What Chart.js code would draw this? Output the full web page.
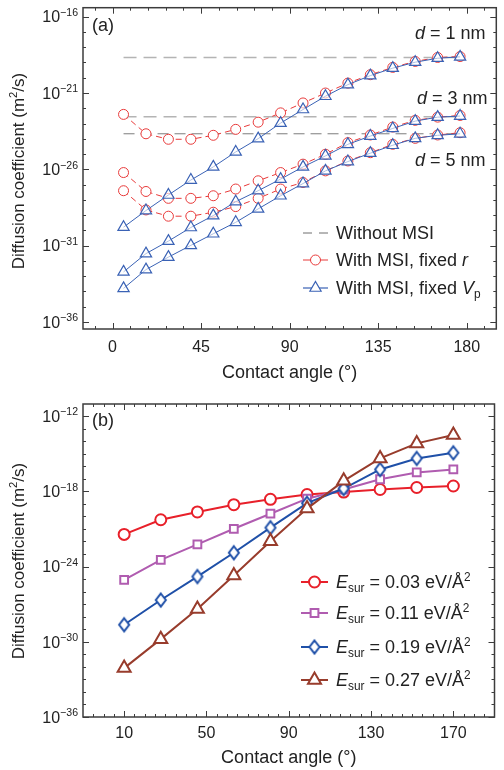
<!DOCTYPE html>
<html>
<head>
<meta charset="utf-8">
<script src="https://cdn.jsdelivr.net/npm/chart.js@4.4.0/dist/chart.umd.min.js"></script>
<style>
  html, body { margin: 0; padding: 0; background: #fff; }
  #wrap { position: relative; width: 504px; height: 770px; }
  canvas { position: absolute; left: 0; }
  #chart-a { top: 0; }
  #chart-b { top: 385px; }
</style>
</head>
<body>
<div id="wrap">
  <canvas id="chart-a" width="504" height="385"></canvas>
  <canvas id="chart-b" width="504" height="385"></canvas>
</div>
<script>
// ---- Panel (a) data: contact angle (deg) vs log10 of diffusion coefficient (m2/s)
const anglesA = [5.6, 17, 28.4, 39.8, 51.2, 62.6, 74, 85.4, 96.8, 108.2, 119.6, 131, 142.4, 153.8, 165.2, 176.6];
const fixedR_d1 = [-22.40, -23.67, -24.03, -24.03, -23.77, -23.38, -22.91, -22.30, -21.65, -21.00, -20.35, -19.80, -19.32, -18.93, -18.67, -18.61];
const fixedV_d1 = [-29.79, -28.70, -27.68, -26.70, -25.84, -24.86, -23.99, -22.97, -22.08, -21.21, -20.45, -19.86, -19.37, -18.98, -18.72, -18.63];
const fixedR_d3 = [-26.21, -27.45, -27.90, -27.90, -27.73, -27.29, -26.75, -26.21, -25.66, -25.01, -24.25, -23.75, -23.23, -22.79, -22.58, -22.47];
const fixedV_d3 = [-32.72, -31.52, -30.70, -29.81, -29.03, -28.12, -27.40, -26.64, -25.84, -25.12, -24.36, -23.82, -23.32, -22.84, -22.58, -22.51];
const fixedR_d5 = [-27.40, -28.66, -29.07, -29.07, -28.81, -28.44, -27.90, -27.29, -26.86, -26.10, -25.45, -24.91, -24.36, -23.97, -23.75, -23.60];
const fixedV_d5 = [-33.80, -32.57, -31.75, -30.98, -30.22, -29.47, -28.59, -27.73, -26.93, -26.10, -25.49, -24.94, -24.42, -23.97, -23.77, -23.67];
// without MSI (flat reference lines), for d = 1, 3, 5 nm
const noMsiSpan = [5.6, 176.6];
const noMsi = [-18.67, -22.56, -23.67];

// ---- Panel (b) data
const anglesB = [10, 27.8, 45.6, 63.3, 81.1, 98.9, 116.7, 134.4, 152.2, 170];
const esur003 = [-21.44, -20.27, -19.65, -19.07, -18.64, -18.26, -18.06, -17.86, -17.70, -17.58];
const esur011 = [-25.07, -23.47, -22.24, -20.99, -19.79, -18.59, -17.86, -17.04, -16.50, -16.26];
const esur019 = [-28.64, -26.67, -24.80, -22.90, -20.90, -18.95, -17.78, -16.26, -15.38, -14.93];
const esur027 = [-32.10, -29.79, -27.38, -24.72, -21.98, -19.38, -17.17, -15.38, -14.18, -13.52];

// ---- Tick labels
const xTicksA = [0, 45, 90, 135, 180];
const yTicksA = [-16, -21, -26, -31, -36];
const xTicksB = [10, 50, 90, 130, 170];
const yTicksB = [-12, -18, -24, -30, -36];

const FONT = '"Liberation Sans", Arial, Helvetica, sans-serif';
const RED_A = '#e83a3a';
const BLUE_A = '#3a62b5';
const C_RED = '#e8202a';
const C_PURPLE = '#b05cb0';
const C_BLUE = '#1f50a8';
const C_BROWN = '#983c2c';
const FRAME = '#3c3c3c';

function pts(xs, logs) {
  return xs.map((x, i) => ({ x: x, y: Math.pow(10, logs[i]) }));
}

function font(size, italic) {
  return (italic ? 'italic ' : '') + size + 'px ' + FONT;
}

// parts: [text, kind]  kind: '' | 'i' | 'sub' | 'sup'
function drawRich(ctx, parts, x, cy, size, align) {
  const small = size * 0.66;
  let w = 0;
  parts.forEach(([t, k]) => {
    ctx.font = font(k === 'sub' || k === 'sup' ? small : size, k === 'i');
    w += ctx.measureText(t).width;
  });
  let px = align === 'center' ? x - w / 2 : align === 'right' ? x - w : x;
  const base = cy + size * 0.36;
  ctx.textAlign = 'left';
  ctx.textBaseline = 'alphabetic';
  parts.forEach(([t, k]) => {
    ctx.font = font(k === 'sub' || k === 'sup' ? small : size, k === 'i');
    let by = base;
    if (k === 'sup') by = base - size * 0.4;
    if (k === 'sub') by = base + size * 0.22;
    ctx.fillText(t, px, by);
    px += ctx.measureText(t).width;
  });
}

function diamondImage(color) {
  const c = document.createElement('canvas');
  c.width = 14; c.height = 18;
  const g = c.getContext('2d');
  g.beginPath();
  g.moveTo(7, 2.5); g.lineTo(12, 9); g.lineTo(7, 15.5); g.lineTo(2, 9); g.closePath();
  g.fillStyle = '#fff'; g.fill();
  g.strokeStyle = color; g.lineWidth = 2; g.stroke();
  return c;
}
const diamond = diamondImage(C_BLUE);

// marker for the hand drawn legends
function drawMarker(ctx, style, x, y, r, color, lw) {
  ctx.save();
  ctx.setLineDash([]);
  ctx.strokeStyle = color;
  ctx.fillStyle = '#fff';
  ctx.lineWidth = lw;
  ctx.beginPath();
  if (style === 'circle') {
    ctx.arc(x, y, r, 0, Math.PI * 2);
  } else if (style === 'triangle') {
    ctx.moveTo(x, y - r);
    ctx.lineTo(x + r * 0.866, y + r / 2);
    ctx.lineTo(x - r * 0.866, y + r / 2);
    ctx.closePath();
  } else if (style === 'rect') {
    const s = r / Math.SQRT2;
    ctx.rect(x - s, y - s, 2 * s, 2 * s);
  } else if (style === 'diamond') {
    ctx.drawImage(diamond, x - 7, y - 9);
    ctx.restore();
    return;
  }
  ctx.fill();
  ctx.stroke();
  ctx.restore();
}

function legendRow(ctx, x0, x1, y, color, dash, lw, marker, r, parts) {
  ctx.save();
  ctx.strokeStyle = color;
  ctx.lineWidth = lw;
  ctx.setLineDash(dash);
  ctx.beginPath();
  ctx.moveTo(x0, y);
  ctx.lineTo(x1, y);
  ctx.stroke();
  ctx.restore();
  if (marker) drawMarker(ctx, marker, (x0 + x1) / 2, y, r, color, lw);
  ctx.fillStyle = '#222';
  drawRich(ctx, parts, x1 + 8, y, 18, 'left');
}

// frame, inward ticks on all four sides, tick labels, titles
function axesPlugin(cfg) {
  return {
    id: 'frameAxes',
    afterDraw(chart) {
      const ctx = chart.ctx;
      const a = chart.chartArea;
      const xs = chart.scales.x, ys = chart.scales.y;
      ctx.save();
      ctx.strokeStyle = FRAME;
      ctx.lineWidth = 1;
      ctx.beginPath();
      const tickX = (v, len) => {
        const p = Math.round(xs.getPixelForValue(v)) + 0.5;
        ctx.moveTo(p, a.bottom); ctx.lineTo(p, a.bottom - len);
        ctx.moveTo(p, a.top); ctx.lineTo(p, a.top + len);
      };
      const tickY = (v, len) => {
        const p = Math.round(ys.getPixelForValue(Math.pow(10, v))) + 0.5;
        ctx.moveTo(a.left, p); ctx.lineTo(a.left + len, p);
        ctx.moveTo(a.right, p); ctx.lineTo(a.right - len, p);
      };
      for (let v = cfg.xMinor[0]; v <= cfg.xMinor[1]; v += cfg.xMinor[2]) tickX(v, 3);
      cfg.xMajor.forEach(v => tickX(v, 6));
      for (let v = cfg.yMinor[0]; v >= cfg.yMinor[1]; v -= 1) tickY(v, 3);
      cfg.yMajor.forEach(v => tickY(v, 6));
      ctx.stroke();
      ctx.lineWidth = 1.5;
      ctx.strokeRect(a.left, a.top, a.right - a.left, a.bottom - a.top);

      ctx.fillStyle = '#222';
      ctx.textAlign = 'center';
      ctx.textBaseline = 'middle';
      ctx.font = font(16);
      cfg.xMajor.forEach(v => ctx.fillText(String(v), xs.getPixelForValue(v), a.bottom + cfg.xLabelGap));
      cfg.yMajor.forEach(v => {
        drawRich(ctx, [['10', ''], ['\u2212' + Math.abs(v), 'sup']], a.left - 5, ys.getPixelForValue(Math.pow(10, v)), 16, 'right');
      });
      drawRich(ctx, [['Contact angle (\u00b0)', '']], (a.left + a.right) / 2, cfg.xTitleY, 18, 'center');
      ctx.save();
      ctx.translate(18, cfg.yTitleY);
      ctx.rotate(-Math.PI / 2);
      drawRich(ctx, [['Diffusion coefficient (m', ''], ['2', 'sup'], ['/s)', '']], 0, 0, 17, 'center');
      ctx.restore();
      drawRich(ctx, [[cfg.panel, '']], a.left + 9, cfg.panelY, 18, 'left');
      if (cfg.extra) cfg.extra(ctx);
      ctx.restore();
    }
  };
}

function baseOptions(pad, xMin, xMax, yMinLog, yMaxLog) {
  return {
    responsive: false,
    animation: false,
    devicePixelRatio: 1,
    layout: { padding: pad },
    plugins: { legend: { display: false }, tooltip: { enabled: false } },
    scales: {
      x: { type: 'linear', min: xMin, max: xMax, display: false },
      y: { type: 'logarithmic', min: Math.pow(10, yMinLog), max: Math.pow(10, yMaxLog), display: false }
    }
  };
}

// ---------------- Panel (a)
function redSet(logs) {
  return {
    data: pts(anglesA, logs), borderColor: RED_A, borderWidth: 1, borderDash: [6, 4],
    pointStyle: 'circle', pointRadius: 5, pointBorderColor: RED_A, pointBorderWidth: 1,
    pointBackgroundColor: '#fff', order: 2
  };
}
function blueSet(logs) {
  return {
    data: pts(anglesA, logs), borderColor: BLUE_A, borderWidth: 1,
    pointStyle: 'triangle', pointRadius: 6.5, pointBorderColor: BLUE_A, pointBorderWidth: 1.2,
    pointBackgroundColor: 'rgba(255,255,255,0.6)', order: 1
  };
}
function grayLine(logv, color, width, dash) {
  return {
    data: pts(noMsiSpan, [logv, logv]), borderColor: color, borderWidth: width, borderDash: dash,
    pointRadius: 0, order: 3
  };
}

new Chart(document.getElementById('chart-a'), {
  type: 'line',
  data: {
    datasets: [
      grayLine(noMsi[0], '#b4b4b4', 1.5, [13, 7]),
      grayLine(noMsi[1], '#b4b4b4', 1.5, [13, 7]),
      grayLine(noMsi[2], '#7c7c7c', 1, [11, 6]),
      redSet(fixedR_d1), redSet(fixedR_d3), redSet(fixedR_d5),
      blueSet(fixedV_d1), blueSet(fixedV_d3), blueSet(fixedV_d5)
    ]
  },
  options: baseOptions({ left: 83, top: 6, right: 5, bottom: 56 }, -15, 195, -36.46, -15.41),
  plugins: [axesPlugin({
    xMajor: xTicksA, xMinor: [-9, 189, 9],
    yMajor: yTicksA, yMinor: [-16, -36],
    xLabelGap: 19, xTitleY: 372, yTitleY: 171,
    panel: '(a)', panelY: 25,
    extra(ctx) {
      ctx.fillStyle = '#222';
      drawRich(ctx, [['d', 'i'], [' = 1 nm', '']], 415, 33, 18, 'left');
      drawRich(ctx, [['d', 'i'], [' = 3 nm', '']], 417, 98, 18, 'left');
      drawRich(ctx, [['d', 'i'], [' = 5 nm', '']], 415, 160, 18, 'left');
      legendRow(ctx, 303, 328, 233, '#6e6e6e', [9, 7], 1, null, 0, [['Without MSI', '']]);
      legendRow(ctx, 303, 328, 260, RED_A, [], 1, 'circle', 5, [['With MSI, fixed ', ''], ['r', 'i']]);
      legendRow(ctx, 303, 328, 288, BLUE_A, [], 1.2, 'triangle', 6.5, [['With MSI, fixed ', ''], ['V', 'i'], ['p', 'sub']]);
    }
  })]
});

// ---------------- Panel (b)
function esurSet(logs, color, style, radius, order) {
  return {
    data: pts(anglesB, logs), borderColor: color, borderWidth: 2,
    pointStyle: style, pointRadius: radius, pointBorderColor: color, pointBorderWidth: 2,
    pointBackgroundColor: '#fff', order: order
  };
}

new Chart(document.getElementById('chart-b'), {
  type: 'line',
  data: {
    datasets: [
      esurSet(esur003, C_RED, 'circle', 5.5, 4),
      esurSet(esur011, C_PURPLE, 'rect', 5.5, 3),
      esurSet(esur019, C_BLUE, diamond, 6, 2),
      esurSet(esur027, C_BROWN, 'triangle', 7.5, 1)
    ]
  },
  options: baseOptions({ left: 83, top: 19, right: 3, bottom: 53 }, -10, 190, -36, -11.04),
  plugins: [axesPlugin({
    xMajor: xTicksB, xMinor: [-5, 185, 5],
    yMajor: yTicksB, yMinor: [-12, -36],
    xLabelGap: 17, xTitleY: 372, yTitleY: 176,
    panel: '(b)', panelY: 35,
    extra(ctx) {
      const rows = [
        [197, C_RED, 'circle', 5.5, '0.03'],
        [228, C_PURPLE, 'rect', 5.5, '0.11'],
        [262, C_BLUE, 'diamond', 6, '0.19'],
        [295, C_BROWN, 'triangle', 7.5, '0.27']
      ];
      rows.forEach(([y, c, m, r, val]) => {
        legendRow(ctx, 301, 328, y, c, [], 2, m, r,
          [['E', 'i'], ['sur', 'sub'], [' = ' + val + ' eV/\u00c5', ''], ['2', 'sup']]);
      });
    }
  })]
});
</script>
</body>
</html>
